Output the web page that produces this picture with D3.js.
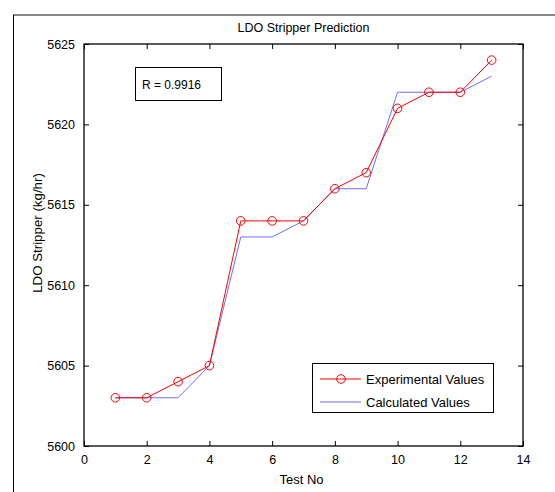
<!DOCTYPE html>
<html>
<head>
<meta charset="utf-8">
<script src="https://d3js.org/d3.v7.min.js"></script>
<style>
  body { margin: 0; background: #fff; }
  text { font-family: "Liberation Sans", Arial, sans-serif; }
</style>
</head>
<body>
<script>
var testNo = [1, 2, 3, 4, 5, 6, 7, 8, 9, 10, 11, 12, 13];
var experimental = [5603, 5603, 5604, 5605, 5614, 5614, 5614, 5616, 5617, 5621, 5622, 5622, 5624];
var calculated = [5603, 5603, 5603, 5605, 5613, 5613, 5614, 5616, 5616, 5622, 5622, 5622, 5623];
var xTicks = [0, 2, 4, 6, 8, 10, 12, 14];
var yTicks = [5600, 5605, 5610, 5615, 5620, 5625];

var width = 555, height = 492;
var plotL = 84, plotR = 523, plotT = 44, plotB = 446;

var svg = d3.select("body").append("svg")
    .attr("width", width)
    .attr("height", height);

// figure frame
svg.append("line")
    .attr("x1", 13).attr("x2", width).attr("y1", 15).attr("y2", 15)
    .style("stroke", "#888").style("stroke-width", 2);
svg.append("line")
    .attr("x1", 13.5).attr("x2", 13.5).attr("y1", 15).attr("y2", height)
    .style("stroke", "#000").style("stroke-width", 1);

var x = d3.scaleLinear().domain([0, 14]).range([plotL, plotR]);
var y = d3.scaleLinear().domain([5600, 5625]).range([plotB, plotT]);

// ticks (inward, all four sides)
function axisStyle(g) {
  g.select(".domain").remove();
  g.selectAll("text").style("font-size", "12.5px").style("fill", "#000");
  g.selectAll("line").style("stroke", "#000");
}
svg.append("g").attr("transform", "translate(0," + plotB + ")")
    .call(d3.axisBottom(x).tickValues(xTicks).tickSizeInner(-5).tickSizeOuter(0).tickPadding(9))
    .call(axisStyle);
svg.append("g").attr("transform", "translate(0," + plotT + ")")
    .call(d3.axisTop(x).tickValues(xTicks).tickSizeInner(-5).tickSizeOuter(0).tickFormat(""))
    .call(axisStyle);
svg.append("g").attr("transform", "translate(" + plotL + ",0)")
    .call(d3.axisLeft(y).tickValues(yTicks).tickFormat(d3.format("d"))
      .tickSizeInner(-5).tickSizeOuter(0).tickPadding(9))
    .call(axisStyle);
svg.append("g").attr("transform", "translate(" + plotR + ",0)")
    .call(d3.axisRight(y).tickValues(yTicks).tickSizeInner(-5).tickSizeOuter(0).tickFormat(""))
    .call(axisStyle);

svg.append("rect")
    .attr("x", plotL).attr("y", plotT)
    .attr("width", plotR - plotL).attr("height", plotB - plotT)
    .style("fill", "none").style("stroke", "#000").style("stroke-width", 1.3);

// lines
var line = function(vals) {
  return d3.line().x(function(d, i) { return x(testNo[i]); }).y(function(d) { return y(d); })(vals);
};
svg.append("path").attr("d", line(calculated))
    .style("fill", "none").style("stroke", "#6f6fff").style("stroke-width", 1);
svg.append("path").attr("d", line(experimental))
    .style("fill", "none").style("stroke", "#ff0000").style("stroke-width", 1);
svg.selectAll(".mk").data(experimental).enter().append("circle")
    .attr("class", "mk")
    .attr("cx", function(d, i) { return x(testNo[i]); })
    .attr("cy", function(d) { return y(d); })
    .attr("r", 4.3)
    .style("fill", "none").style("stroke", "#ff0000").style("stroke-width", 1);

// titles
svg.append("text").attr("x", (plotL + plotR) / 2).attr("y", 32)
    .attr("text-anchor", "middle").style("font-size", "12.5px").text("LDO Stripper Prediction");
svg.append("text").attr("x", 301.5).attr("y", 484)
    .attr("text-anchor", "middle").style("font-size", "13px").text("Test No");
svg.append("text")
    .attr("transform", "translate(42,233) rotate(-90)")
    .attr("text-anchor", "middle").style("font-size", "13.3px").text("LDO Stripper (kg/hr)");

// R box
svg.append("rect").attr("x", 135.5).attr("y", 67.5).attr("width", 86).attr("height", 33)
    .style("fill", "#fff").style("stroke", "#000").style("stroke-width", 1);
svg.append("text").attr("x", 142).attr("y", 89).style("font-size", "12px").text("R = 0.9916");

// legend
svg.append("rect").attr("x", 312.5).attr("y", 363.5).attr("width", 181).attr("height", 49)
    .style("fill", "#fff").style("stroke", "#000").style("stroke-width", 1);
svg.append("line").attr("x1", 320).attr("x2", 361).attr("y1", 379).attr("y2", 379)
    .style("stroke", "#ff0000");
svg.append("circle").attr("cx", 341).attr("cy", 379).attr("r", 4.3)
    .style("fill", "none").style("stroke", "#ff0000");
svg.append("line").attr("x1", 320).attr("x2", 361).attr("y1", 402).attr("y2", 402)
    .style("stroke", "#6f6fff");
svg.append("text").attr("x", 366).attr("y", 384).style("font-size", "13px").text("Experimental Values");
svg.append("text").attr("x", 366).attr("y", 407).style("font-size", "13px").text("Calculated Values");
</script>
</body>
</html>
